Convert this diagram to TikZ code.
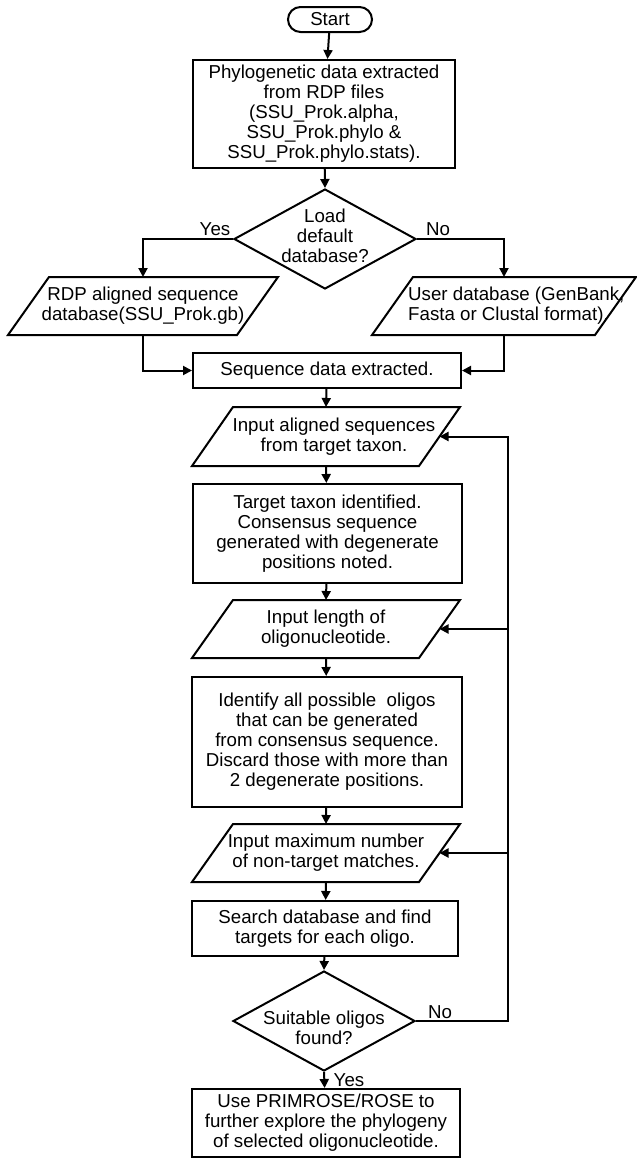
\documentclass[tikz,border=0pt]{standalone}
\usepackage{fontspec}
\setmainfont{Liberation Sans}
\usetikzlibrary{arrows.meta,calc,shapes.geometric}
\tikzset{
  ln/.style={line width=2pt},
  arr/.style={ln, -{Triangle[length=9pt,width=9pt]}},
  txt/.style={align=center, font=\fontsize{18.7}{20}\selectfont, inner sep=0pt},
  procbox/.style={txt, draw, ln},
  paranode/.style={txt, outer sep=0pt},
  decision/.style={draw, ln, diamond, inner sep=0pt, minimum width=182, minimum height=100},
  lbl/.style={font=\fontsize{18.7}{20}\selectfont, inner sep=0pt}
}
\newcommand{\drawpara}[2]{\draw[ln] ([xshift=#2]#1.north west) -- (#1.north east) -- ([xshift=-#2]#1.south east) -- (#1.south west) -- cycle;}
\begin{document}
\begin{tikzpicture}[x=1pt,y=-1pt]
\useasboundingbox (0,0) rectangle (637,1160);

\node[procbox, rounded corners=12.5pt, minimum width=84, minimum height=25] (start) at (330,19.5) {Start};
\node[procbox, minimum width=262, minimum height=108] (phylo) at (324,114)
  {Phylogenetic data extracted\\from RDP files\\(SSU\_Prok.alpha,\\SSU\_Prok.phylo \&\\SSU\_Prok.phylo.stats).};
\node[decision] (d1) at (325,239) {};
\node[txt] (d1t) at (325,236) {Load\\default\\database?};

\node[paranode, minimum width=270, minimum height=58] (pl) at (143,306) {RDP aligned sequence\\database(SSU\_Prok.gb)};
\drawpara{pl}{41}
\node[paranode, minimum width=264, minimum height=58] (pr) at (504,306) {};
\drawpara{pr}{41}
\node[txt, align=left, anchor=west] (prt) at (408,305.5) {User database (GenBank,\\Fasta or Clustal format).};

\node[procbox, minimum width=268, minimum height=35] (seq) at (327,370.5) {Sequence data extracted.};

\node[paranode, minimum width=268, minimum height=59] (p1) at (326,436.5) {\hspace*{16pt}Input aligned sequences\\\hspace*{16pt}from target taxon.};
\drawpara{p1}{41}
\node[procbox, minimum width=269, minimum height=99] (target) at (327.5,533.5)
  {Target taxon identified.\\Consensus sequence\\generated with degenerate\\positions noted.};
\node[paranode, minimum width=268, minimum height=58] (p2) at (326,629) {Input length of\\oligonucleotide.};
\drawpara{p2}{41}
\node[procbox, minimum width=270, minimum height=130] (ident) at (327,742)
  {Identify all possible~ oligos\\that can be generated\\from consensus sequence.\\Discard those with more than\\2 degenerate positions.};
\node[paranode, minimum width=268, minimum height=58] (p3) at (326,853) {Input maximum number\\of non-target matches.};
\drawpara{p3}{41}
\node[procbox, minimum width=266, minimum height=55] (search) at (325,928.5)
  {Search database and find\\targets for each oligo.};
\node[decision] (d2) at (324,1021) {};
\node[txt] (d2t) at (324,1028) {Suitable oligos\\found?};
\node[procbox, minimum width=268, minimum height=68] (final) at (326,1123)
  {Use PRIMROSE/ROSE to\\further explore the phylogeny\\of selected oligonucleotide.};

\coordinate (p1r) at ($(p1.east)+(-20.5,0)$);
\coordinate (p2r) at ($(p2.east)+(-20.5,0)$);
\coordinate (p3r) at ($(p3.east)+(-20.5,0)$);
\coordinate (loop) at (508,1021);

\draw[arr] (start) -- (phylo);
\draw[arr] (phylo) -- (d1.north);
\draw[arr] (d1.west) -| (pl.north);
\draw[arr] (d1.east) -| (pr.north);
\draw[arr] (pl.south) |- (seq.west);
\draw[arr] (pr.south) |- (seq.east);
\draw[arr] (seq) -- (p1.north);
\draw[arr] (p1.south) -- (target);
\draw[arr] (target) -- (p2.north);
\draw[arr] (p2.south) -- (ident);
\draw[arr] (ident) -- (p3.north);
\draw[arr] (p3.south) -- (search);
\draw[arr] (search) -- (d2.north);
\draw[arr] (d2.south) -- (final);
\draw[arr] (d2.east) -- (loop) |- (p1r);
\draw[arr] (loop |- p2r) -- (p2r);
\draw[arr] (loop |- p3r) -- (p3r);

\node[lbl] (yes1) at (215,229) {Yes};
\node[lbl] (no1) at (438,229) {No};
\node[lbl] (no2) at (440,1012) {No};
\node[lbl] (yes2) at (349,1080) {Yes};
\end{tikzpicture}
\end{document}
